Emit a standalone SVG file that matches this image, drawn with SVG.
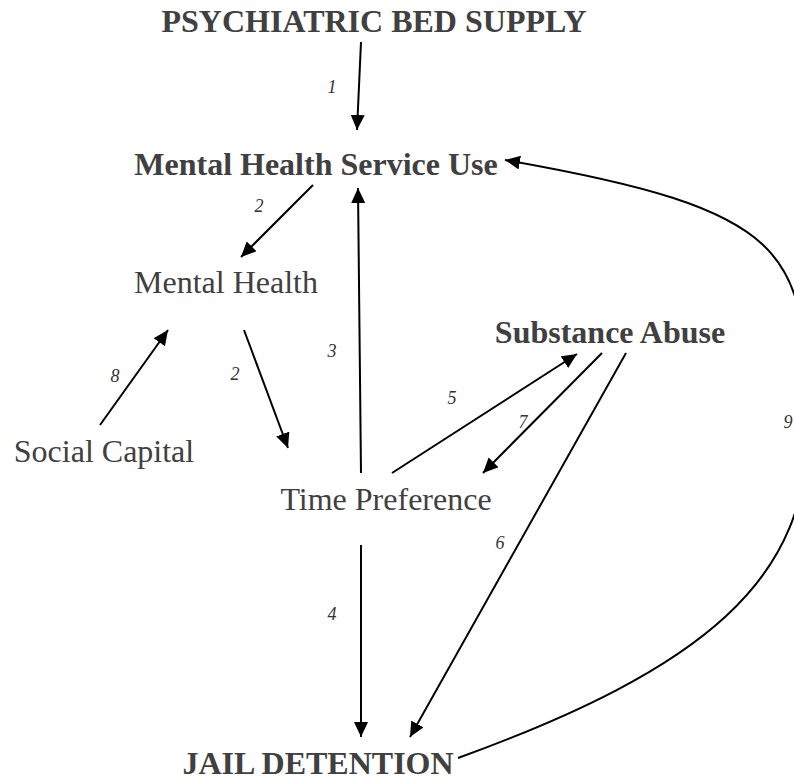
<svg xmlns="http://www.w3.org/2000/svg" width="794" height="782" viewBox="0 0 794 782">
  <style>
    .node { font-family: "Liberation Serif", "Times New Roman", serif; font-size: 32px; fill: #404040; text-anchor: middle; }
    .bold { font-weight: bold; }
    .lbl { font-family: "Liberation Serif", "Times New Roman", serif; font-size: 18px; font-style: italic; fill: #333333; text-anchor: middle; }
    .edge { fill: none; stroke: #000000; stroke-width: 2; marker-end: url(#head); }
  </style>
  <defs>
    <marker id="head" markerUnits="userSpaceOnUse" markerWidth="16" markerHeight="14" refX="15" refY="7" orient="auto">
      <path d="M0,0 L15,7 L0,14 z" fill="#000000"/>
    </marker>
  </defs>
  <rect width="794" height="782" fill="#ffffff"/>

  <g id="connectors">
    <path class="edge" d="M361,42 L357,130"/>
    <path class="edge" d="M313,185 L241,257"/>
    <path class="edge" d="M244,330 L288,448"/>
    <path class="edge" d="M100,425 L168,330"/>
    <path class="edge" d="M361,473 L358,188"/>
    <path class="edge" d="M392,473 L577,354"/>
    <path class="edge" d="M602,353 L483,473"/>
    <path class="edge" d="M626,353 L410,737"/>
    <path class="edge" d="M361,545 L361,737"/>
    <path class="edge" d="M458,758 C700,670 815,580 806,420 C808,250 790,210 505,160"/>
  </g>

  <g id="labels">
    <text class="lbl" x="332" y="93">1</text>
    <text class="lbl" x="259" y="212">2</text>
    <text class="lbl" x="235" y="380">2</text>
    <text class="lbl" x="115" y="382">8</text>
    <text class="lbl" x="332" y="357">3</text>
    <text class="lbl" x="452" y="404">5</text>
    <text class="lbl" x="523" y="428">7</text>
    <text class="lbl" x="788" y="428">9</text>
    <text class="lbl" x="332" y="620">4</text>
    <text class="lbl" x="500" y="549">6</text>
  </g>

  <g id="bed-supply"><text class="node bold" x="374" y="32">PSYCHIATRIC BED SUPPLY</text></g>
  <g id="service-use"><text class="node bold" x="316" y="175">Mental Health Service Use</text></g>
  <g id="mental-health"><text class="node" x="226" y="293">Mental Health</text></g>
  <g id="social-capital"><text class="node" x="104" y="462">Social Capital</text></g>
  <g id="time-preference"><text class="node" x="386" y="510">Time Preference</text></g>
  <g id="substance-abuse"><text class="node bold" x="610" y="343">Substance Abuse</text></g>
  <g id="jail-detention"><text class="node bold" x="318" y="774">JAIL DETENTION</text></g>
</svg>
